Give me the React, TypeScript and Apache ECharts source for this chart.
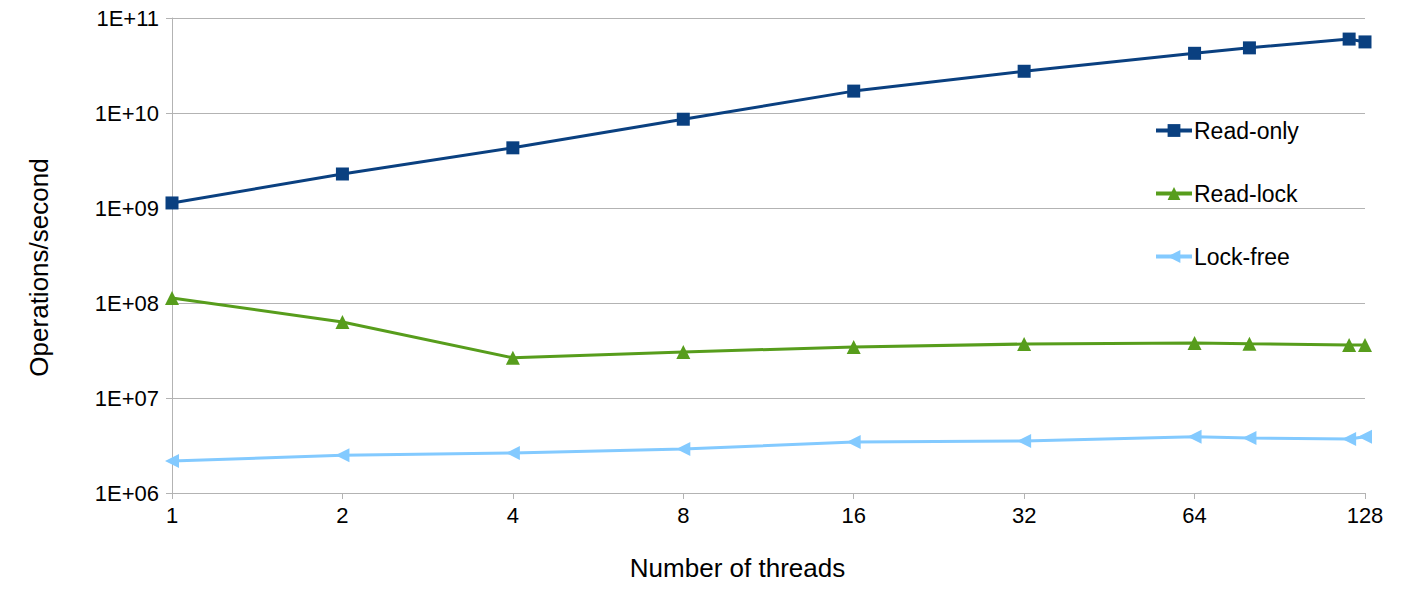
import React, { useEffect, useRef } from "react";
import * as echarts from "echarts";

const threads = [1, 2, 4, 8, 16, 32, 64, 80, 120, 128];
const readOnly = [1.13e9, 2.28e9, 4.3e9, 8.6e9, 1.7e10, 2.75e10, 4.25e10, 4.85e10, 6.0e10, 5.6e10];
const readLock = [1.13e8, 6.3e7, 2.65e7, 3.05e7, 3.45e7, 3.7e7, 3.8e7, 3.72e7, 3.62e7, 3.62e7];
const lockFree = [2.17e6, 2.5e6, 2.64e6, 2.9e6, 3.44e6, 3.53e6, 3.9e6, 3.8e6, 3.7e6, 3.9e6];
const seriesNames = ["Read-only", "Read-lock", "Lock-free"];
const colors = ["#0a4080", "#579d1c", "#83caff"];

const pairs = (ys: number[]) => threads.map((t, i) => [t, ys[i]]);

export default function App() {
  const ref = useRef<HTMLDivElement>(null);
  useEffect(() => {
    const chart = echarts.init(ref.current!, undefined, { renderer: "svg" });
    const font = "'Liberation Sans', Arial, sans-serif";
    chart.setOption({
      animation: false,
      textStyle: { fontFamily: font },
      grid: { left: 172, right: 43, top: 18, bottom: 96 },
      legend: {
        orient: "vertical",
        left: 1149,
        top: 114,
        itemWidth: 36,
        itemHeight: 16,
        itemGap: 40,
        lineStyle: { width: 4 },
        textStyle: { fontSize: 23, color: "#000", fontFamily: font, padding: [0, 0, 0, -3] },
        data: seriesNames,
      },
      xAxis: {
        type: "log",
        logBase: 2,
        min: 1,
        max: 128,
        splitNumber: 7,
        name: "Number of threads",
        nameLocation: "middle",
        nameGap: 62,
        nameTextStyle: { fontSize: 26, color: "#000", fontFamily: font, padding: [0, 62, 0, 0] },
        axisLine: { show: true, lineStyle: { color: "#b3b3b3", width: 1 } },
        axisTick: { show: true, length: 6, lineStyle: { color: "#b3b3b3" } },
        axisLabel: { fontSize: 22, color: "#000", margin: 11, fontFamily: font },
        splitLine: { show: false },
        minorTick: { show: false },
      },
      yAxis: {
        type: "log",
        logBase: 10,
        min: 1e6,
        max: 1e11,
        splitNumber: 5,
        name: "Operations/second",
        nameLocation: "middle",
        nameGap: 120,
        nameTextStyle: { fontSize: 26, color: "#000", fontFamily: font, padding: [0, 24, 0, 0] },
        axisLine: { show: true, lineStyle: { color: "#b3b3b3", width: 1 } },
        axisTick: { show: true, length: 6, lineStyle: { color: "#b3b3b3" } },
        axisLabel: {
          fontSize: 22,
          color: "#000",
          margin: 13,
          fontFamily: font,
          formatter: (v: number) => {
            const e = Math.round(Math.log10(v));
            return "1E+" + (e < 10 ? "0" + e : String(e));
          },
        },
        splitLine: { show: true, lineStyle: { color: "#b3b3b3", width: 1 } },
      },
      series: [
        {
          name: seriesNames[0],
          type: "line",
          data: pairs(readOnly),
          symbol: "rect",
          symbolSize: 13,
          lineStyle: { width: 3, color: colors[0] },
          itemStyle: { color: colors[0] },
          clip: false,
          z: 3,
        },
        {
          name: seriesNames[1],
          type: "line",
          data: pairs(readLock),
          symbol: "triangle",
          symbolSize: 14,
          lineStyle: { width: 3, color: colors[1] },
          itemStyle: { color: colors[1] },
          clip: false,
          z: 3,
        },
        {
          name: seriesNames[2],
          type: "line",
          data: pairs(lockFree),
          symbol: "triangle",
          symbolRotate: 90,
          symbolSize: 14,
          lineStyle: { width: 3, color: colors[2] },
          itemStyle: { color: colors[2] },
          clip: false,
          z: 3,
        },
      ],
    });
    return () => chart.dispose();
  }, []);
  return (
    <div
      ref={ref}
      style={{ position: "absolute", left: 0, top: 0, width: 1408, height: 589 }}
    />
  );
}
